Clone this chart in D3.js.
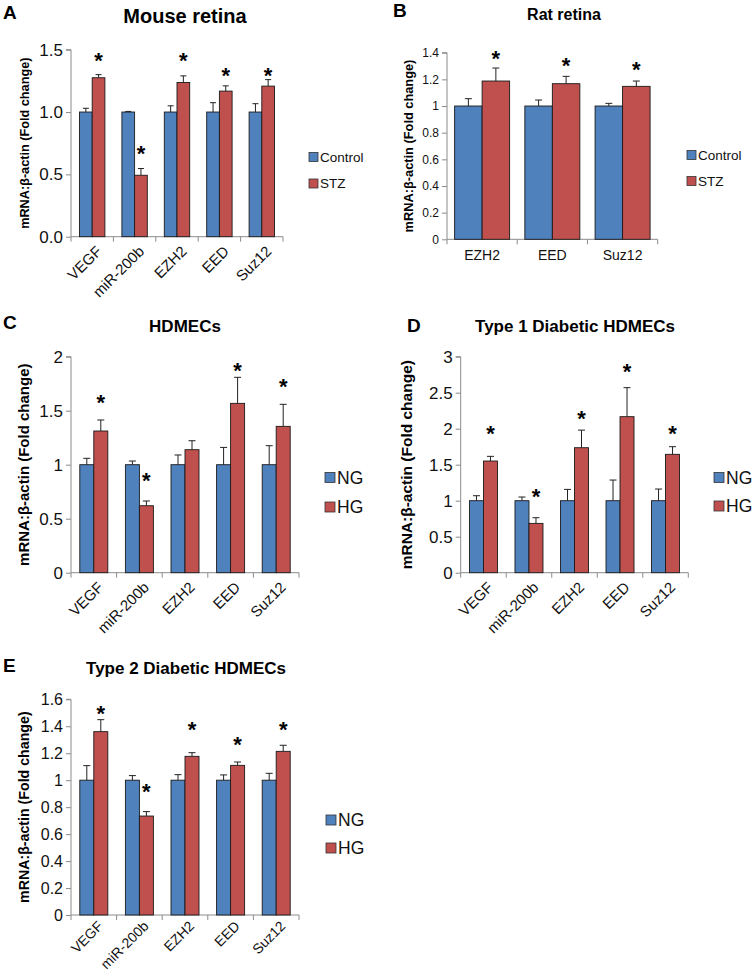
<!DOCTYPE html>
<html><head><meta charset="utf-8">
<script src="https://cdn.jsdelivr.net/npm/d3@7"></script>
<style>body{margin:0;background:#fff}svg{display:block}text{font-family:"Liberation Sans",Arial,sans-serif}</style>
</head><body>
<script>
// ---------- DATA ----------
const genesA = ["VEGF","miR-200b","EZH2","EED","Suz12"];
const seriesA = ["Control","STZ"];
const ctrlA = [1,1,1,1,1];
const ctrlErrA = [0.03,0.005,0.05,0.075,0.067];
const stzA = [1.275,0.493,1.237,1.168,1.208];
const stzErrA = [0.025,0.054,0.053,0.042,0.052];
const starA = [1.45,0.71,1.45,1.33,1.33];
const ticksA = ["0.0","0.5","1.0","1.5"];

const genesB = ["EZH2","EED","Suz12"];
const seriesB = ["Control","STZ"];
const ctrlB = [1,1,1];
const ctrlErrB = [0.055,0.045,0.02];
const stzB = [1.1875,1.1675,1.1475];
const stzErrB = [0.0975,0.055,0.04];
const starB = [1.395,1.337,1.307];
const ticksB = ["0","0.2","0.4","0.6","0.8","1","1.2","1.4"];

const genesC = ["VEGF","miR-200b","EZH2","EED","Suz12"];
const seriesC = ["NG","HG"];
const ngC = [1,1,1,1,1];
const ngErrC = [0.059,0.034,0.09,0.16,0.176];
const hgC = [1.312,0.62,1.139,1.568,1.355];
const hgErrC = [0.102,0.044,0.083,0.241,0.204];
const starC = [1.62,0.90,null,1.914,1.77];
const ticksC = ["0","0.5","1","1.5","2"];

const genesD = ["VEGF","miR-200b","EZH2","EED","Suz12"];
const seriesD = ["NG","HG"];
const ngD = [1,1,1,1,1];
const ngErrD = [0.069,0.051,0.157,0.287,0.162];
const hgD = [1.551,0.685,1.736,2.167,1.644];
const hgErrD = [0.065,0.079,0.244,0.403,0.106];
const starD = [2.0,1.125,2.21,2.86,2.0];
const ticksD = ["0","0.5","1","1.5","2","2.5","3"];

const genesE = ["VEGF","miR-200b","EZH2","EED","Suz12"];
const seriesE = ["NG","HG"];
const ngE = [1,1,1,1,1];
const ngErrE = [0.108,0.034,0.041,0.039,0.051];
const hgE = [1.36,0.734,1.177,1.11,1.214];
const hgErrE = [0.089,0.033,0.027,0.025,0.045];
const starE = [1.528,0.952,1.414,1.298,1.414];
const ticksE = ["0","0.2","0.4","0.6","0.8","1","1.2","1.4","1.6"];

const titles = ["Mouse retina","Rat retina","HDMECs","Type 1 Diabetic HDMECs","Type 2 Diabetic HDMECs"];
const letters = ["A","B","C","D","E"];
const yTitle = "mRNA:\u03b2-actin (Fold change)";

// ---------- DRAW ----------
const BLUE = "#4F81BD", RED = "#C0504D", AXIS = "#8c8c8c";
const svg = d3.select("body").append("svg").attr("width",755).attr("height",976);

function panel(o, cats, ser, v1, e1, v2, e2, stars, ticks, title, letter) {
  const g = svg.append("g");
  const x = d3.scaleBand().domain(cats).range([o.x0, o.x1]);
  const y = d3.scaleLinear().domain([0, +ticks[ticks.length-1]]).range([o.yB, o.yT]);
  const inner = d3.scaleBand().domain([0,1]).range([0, 2*o.bw]);
  const off = (x.bandwidth() - 2*o.bw)/2;

  // axes
  const ya = d3.axisLeft(y).tickValues(ticks.map(Number)).tickFormat((d,i)=>ticks[i]).tickSize(5).tickPadding(o.tp);
  const yg = g.append("g").attr("transform",`translate(${o.x0},0)`).call(ya);
  yg.select(".domain").attr("stroke",AXIS).attr("d",`M-5,${o.yT}H0V${o.yB}`);
  yg.selectAll(".tick line").attr("stroke",AXIS);
  yg.selectAll(".tick text").attr("fill","#111").style("font-size",o.tfs+"px").style("font-family","Liberation Sans, Arial");

  g.append("line").attr("x1",o.x0).attr("x2",o.x1).attr("y1",o.yB).attr("y2",o.yB).attr("stroke",AXIS);
  const bounds = cats.map(c=>x(c)).concat([o.x1]);
  g.selectAll(".xt").data(bounds).enter().append("line")
    .attr("x1",d=>d).attr("x2",d=>d).attr("y1",o.yB).attr("y2",o.yB+5).attr("stroke",AXIS);

  // bars
  const vals = [v1, v2], errs = [e1, e2], cols = [BLUE, RED];
  [0,1].forEach(s=>{
    g.selectAll(".b"+s).data(cats).enter().append("rect")
      .attr("x",c=>x(c)+off+inner(s)).attr("width",inner.bandwidth())
      .attr("y",(c,i)=>y(vals[s][i])).attr("height",(c,i)=>y(0)-y(vals[s][i]))
      .attr("fill",cols[s]).attr("stroke","#1a1a1a").attr("stroke-width",0.9);
    const cx = c=>x(c)+off+inner(s)+inner.bandwidth()/2;
    g.selectAll(".e"+s).data(cats).enter().append("path")
      .attr("d",(c,i)=>{const t=y(vals[s][i]+errs[s][i]), b=y(vals[s][i]);
        return `M${cx(c)},${b}V${t}M${cx(c)-o.cap/2},${t}H${cx(c)+o.cap/2}`;})
      .attr("stroke","#222").attr("stroke-width",1).attr("fill","none");
  });
  // stars
  g.selectAll(".st").data(cats.filter((c,i)=>stars[i]!=null)).enter().append("text")
    .attr("x",c=>x(c)+off+inner(1)+inner.bandwidth()/2)
    .attr("y",c=>y(stars[cats.indexOf(c)])+0.56*o.sfs)
    .attr("text-anchor","middle").style("font-size",o.sfs+"px").style("font-weight","bold").text("*");

  // x labels
  if (o.rot) {
    g.selectAll(".xl").data(cats).enter().append("text")
      .attr("transform",c=>`translate(${x(c)+x.bandwidth()/2+o.lx},${o.yB+o.ly}) rotate(-45)`)
      .attr("dy","0.71em").attr("text-anchor","end").style("font-size",o.xfs+"px").attr("fill","#111").text(c=>c);
  } else {
    g.selectAll(".xl").data(cats).enter().append("text")
      .attr("x",c=>x(c)+x.bandwidth()/2).attr("y",o.yB+o.ly)
      .attr("text-anchor","middle").style("font-size",o.xfs+"px").attr("fill","#111").text(c=>c);
  }
  // y title
  g.append("text").attr("transform",`translate(${o.ytx},${(o.yT+o.yB)/2+o.yty}) rotate(-90)`)
    .attr("text-anchor","middle").style("font-size",o.ytfs+"px").style("font-weight","bold").text(yTitle);
  // title & letter
  g.append("text").attr("x",o.tx).attr("y",o.ty).attr("text-anchor","middle")
    .style("font-size",o.ttfs+"px").style("font-weight","bold").text(title);
  g.append("text").attr("x",o.lx0).attr("y",o.ly0).style("font-size",o.lfs+"px").style("font-weight","bold").text(letter);
  // legend
  ser.forEach((s,i)=>{
    const cy = o.legY[i];
    g.append("rect").attr("x",o.legX).attr("y",cy-o.sq/2).attr("width",o.sq).attr("height",o.sq)
      .attr("fill",cols[i]).attr("stroke","#333").attr("stroke-width",0.8);
    g.append("text").attr("x",o.legX+o.sq+2).attr("y",cy).attr("dy","0.36em")
      .style("font-size",o.lgfs+"px").attr("fill","#111").text(s);
  });
}

panel({x0:71,x1:283,yT:49.7,yB:236.7,bw:12.7,cap:6,tfs:17,tp:3,sfs:22,rot:true,lx:3,ly:8,xfs:15,
  ytx:29,yty:0,ytfs:12.7,tx:185,ty:23,ttfs:20,lx0:3,ly0:19,lfs:19,legX:309,legY:[157,183.5],sq:9,lgfs:13.5},
  genesA, seriesA, ctrlA, ctrlErrA, stzA, stzErrA, starA, ticksA, titles[0], letters[0]);

panel({x0:447,x1:657.7,yT:52.7,yB:239.3,bw:27.5,cap:7,tfs:12,tp:3,sfs:22,rot:false,ly:21,xfs:14,
  ytx:413,yty:0,ytfs:12.8,tx:564,ty:20,ttfs:16,lx0:393,ly0:17,lfs:19,legX:687,legY:[155,181],sq:9,lgfs:13.5},
  genesB, seriesB, ctrlB, ctrlErrB, stzB, stzErrB, starB, ticksB, titles[1], letters[1]);

panel({x0:71,x1:299,yT:356.7,yB:572.7,bw:14,cap:7,tfs:17,tp:3,sfs:22,rot:true,lx:3,ly:8,xfs:15,
  ytx:29,yty:0,ytfs:15,tx:185,ty:331.7,ttfs:17,lx0:3,ly0:329,lfs:19,legX:325,legY:[477.5,507],sq:10,lgfs:17.5},
  genesC, seriesC, ngC, ngErrC, hgC, hgErrC, starC, ticksC, titles[2], letters[2]);

panel({x0:460.7,x1:688.3,yT:356.7,yB:572.7,bw:14,cap:7,tfs:17,tp:3,sfs:22,rot:true,lx:3,ly:8,xfs:15,
  ytx:412,yty:0,ytfs:15.5,tx:575,ty:331.7,ttfs:17,lx0:407,ly0:332,lfs:19,legX:714,legY:[477.5,506],sq:10,lgfs:17.5},
  genesD, seriesD, ngD, ngErrD, hgD, hgErrD, starD, ticksD, titles[3], letters[3]);

panel({x0:71,x1:299,yT:699.3,yB:915,bw:14,cap:7,tfs:16,tp:3,sfs:22,rot:true,lx:3,ly:5,xfs:14,
  ytx:29,yty:0,ytfs:14.2,tx:186,ty:674,ttfs:17,lx0:3,ly0:672,lfs:19,legX:326,legY:[820,848],sq:10,lgfs:17.5},
  genesE, seriesE, ngE, ngErrE, hgE, hgErrE, starE, ticksE, titles[4], letters[4]);
</script>
</body></html>
